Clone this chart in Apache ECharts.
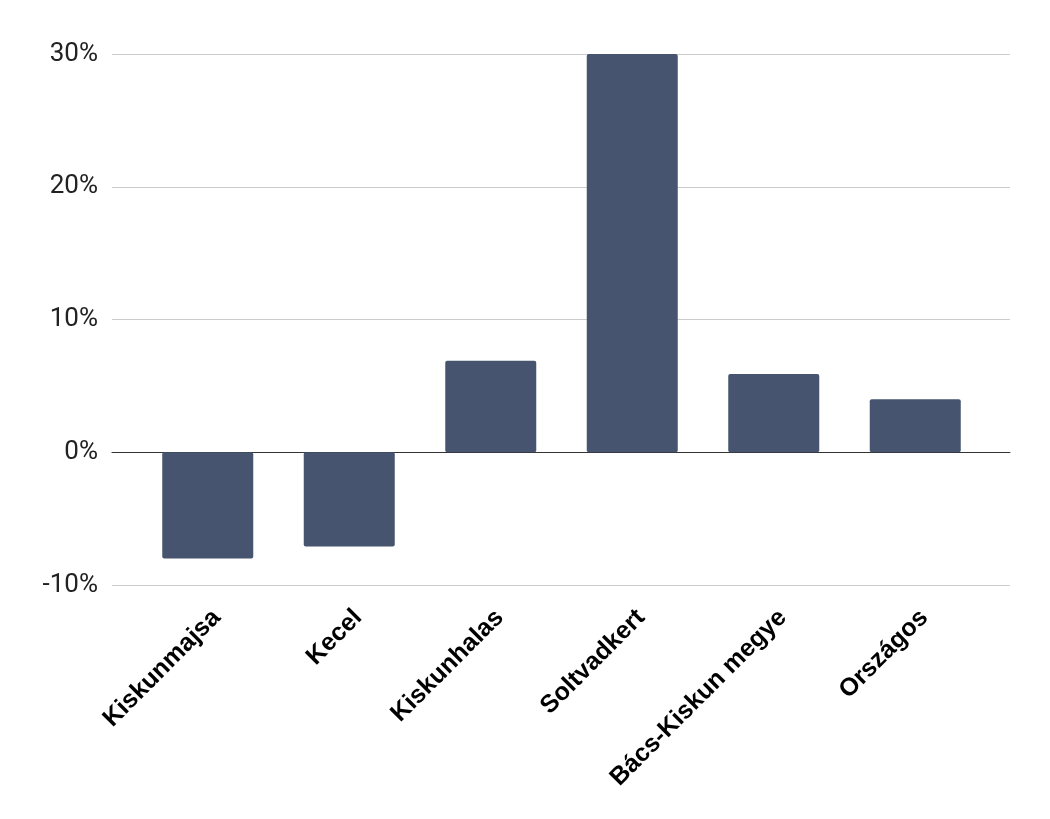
<!DOCTYPE html>
<html>
<head>
<meta charset="utf-8">
<style>
  html, body { margin: 0; padding: 0; background: #fff; }
  #chart { width: 1050px; height: 819px; }
</style>
<script src="https://cdn.jsdelivr.net/npm/echarts@6/dist/echarts.min.js"></script>
</head>
<body>
<div id="chart"></div>
<script>
(function () {
  'use strict';

  const categories = ['Kiskunmajsa', 'Kecel', 'Kiskunhalas', 'Soltvadkert', 'Bács-Kiskun megye', 'Országos'];
  const values = [-8.0, -7.1, 6.9, 30.0, 5.9, 4.0];
  const yMin = -10;
  const yMax = 30;
  const yStep = 10;

  const chart = echarts.init(document.getElementById('chart'));

  chart.setOption({
    backgroundColor: '#ffffff',
    animation: false,
    textStyle: { fontFamily: 'Roboto, sans-serif' },
    grid: [
      { left: 112, right: 40, top: 54, bottom: 234 },
      { left: 137, right: 64, top: 54, bottom: 234 },
    ],
    xAxis: [
      {
        gridIndex: 0,
        type: 'value',
        min: 0,
        max: 1,
        axisLine: { show: true, onZero: true, lineStyle: { color: '#333333', width: 1 } },
        axisTick: { show: false },
        axisLabel: { show: false },
        splitLine: { show: false },
      },
      {
        gridIndex: 1,
        type: 'category',
        data: categories,
        axisLine: { show: false },
        axisTick: { show: false },
        axisLabel: {
          rotate: 45,
          margin: 20,
          interval: 0,
          verticalAlign: 'top',
          color: '#000000',
          fontSize: 25,
          fontWeight: 'bold',
          fontFamily: '"Liberation Sans", Arial, sans-serif',
        },
      },
    ],
    yAxis: [
      {
        gridIndex: 0,
        type: 'value',
        min: yMin,
        max: yMax,
        interval: yStep,
        axisLine: { show: false },
        axisTick: { show: false },
        axisLabel: {
          margin: 14,
          color: '#222222',
          fontSize: 26,
          formatter: (v) => `${v}%`,
        },
        splitLine: { lineStyle: { color: '#cccccc', width: 1 } },
      },
      {
        gridIndex: 1,
        type: 'value',
        min: yMin,
        max: yMax,
        interval: yStep,
        show: false,
        splitLine: { show: false },
      },
    ],
    series: [
      {
        type: 'bar',
        xAxisIndex: 1,
        yAxisIndex: 1,
        data: values,
        barWidth: 91,
        itemStyle: { color: '#46546f', borderRadius: 2 },
        z: 1,
      },
    ],
  });
})();
</script>
</body>
</html>
